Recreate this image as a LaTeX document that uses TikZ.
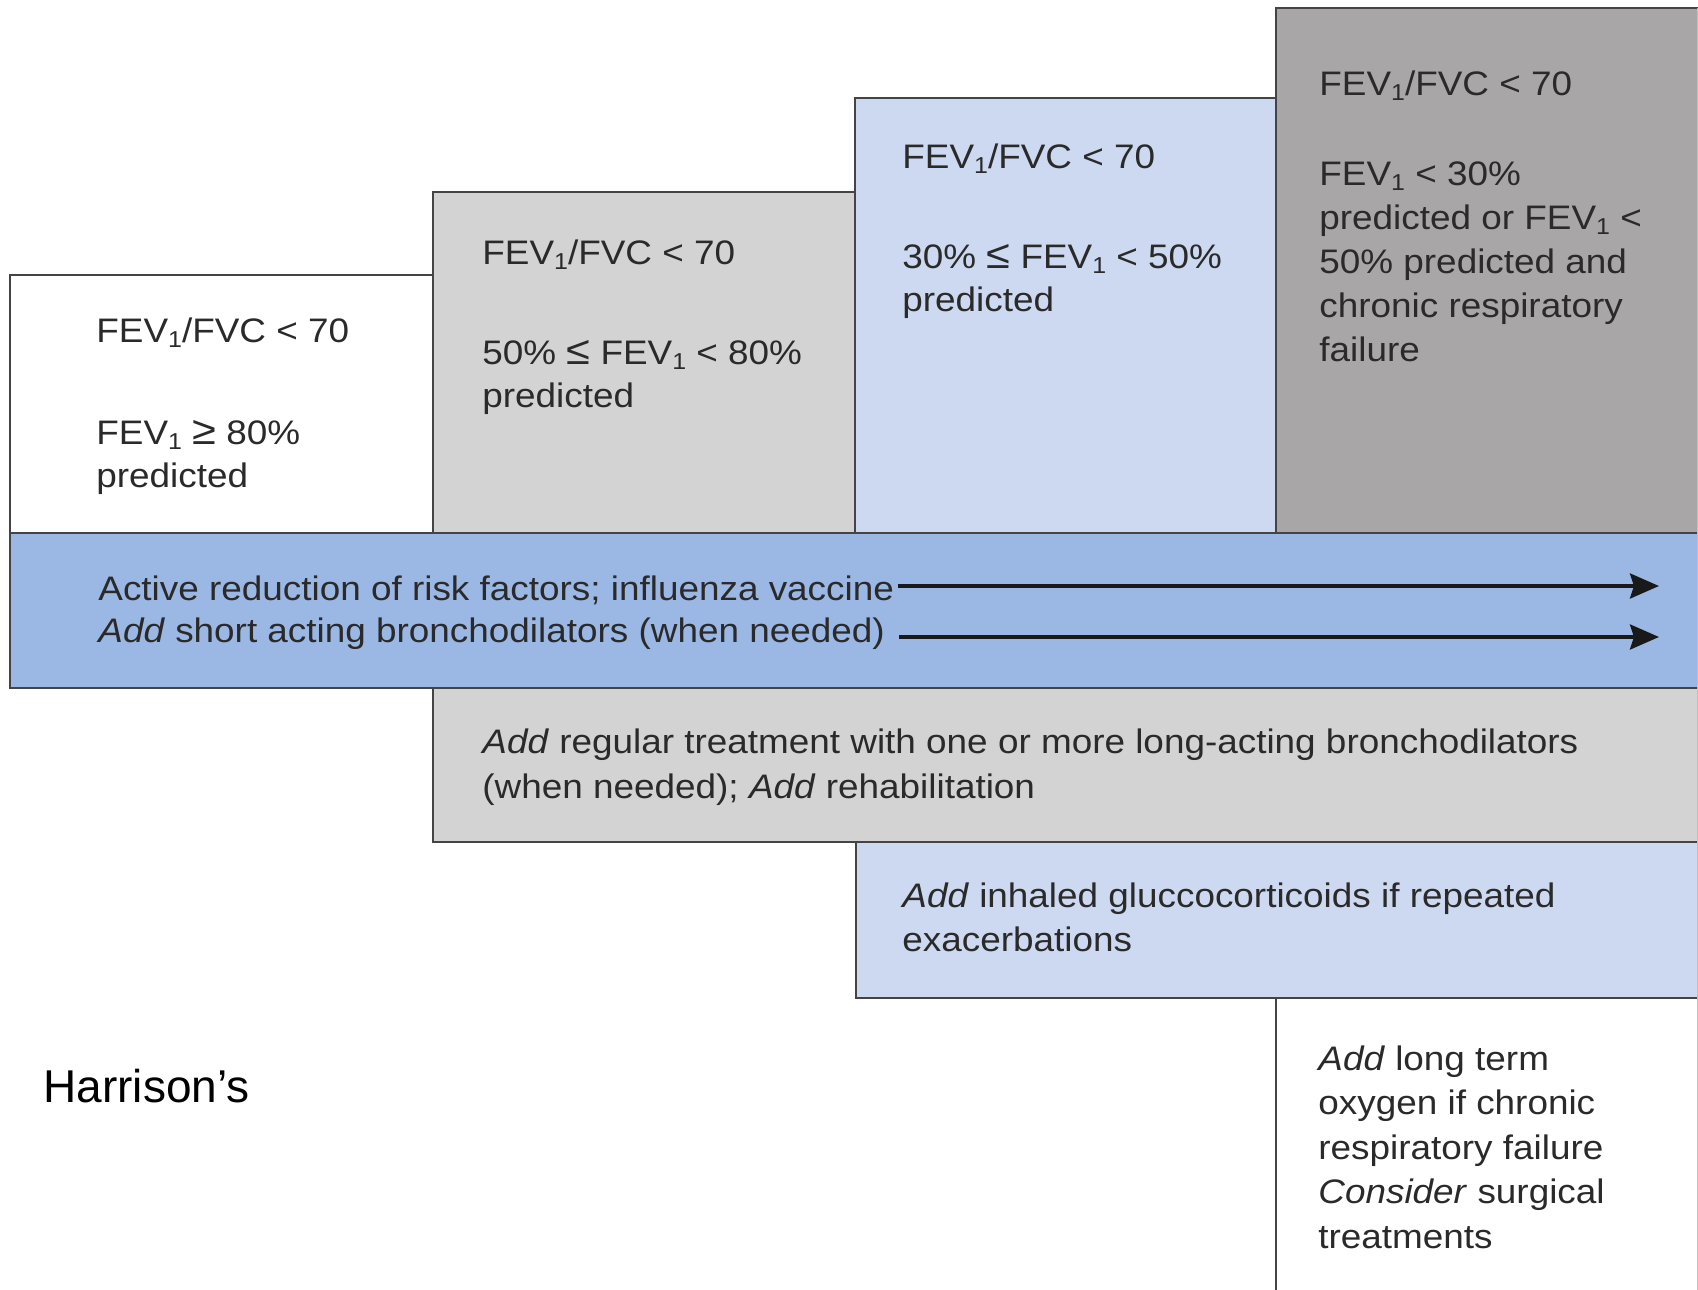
\documentclass[tikz,border=0pt]{standalone}
\usepackage{fontspec}
\setmainfont{Liberation Sans}
\newfontfamily\dfont[FakeStretch=1.085]{Liberation Sans}
\usetikzlibrary{arrows.meta}
\definecolor{lgray}{HTML}{D3D3D3}
\definecolor{lblue}{HTML}{CCD9F0}
\definecolor{dgray}{HTML}{A8A6A7}
\definecolor{mblue}{HTML}{9BB8E4}
\definecolor{edgec}{HTML}{444444}
\definecolor{txtc}{HTML}{2A2A2A}
\newcommand\fevone{FEV\raisebox{-2.5pt}{\fontsize{11.5}{11.5}\selectfont 1}}
\newcommand\mygeq{{\fontsize{20}{20}\selectfont ≥}}
\newcommand\myleq{{\fontsize{20}{20}\selectfont ≤}}
\tikzset{
  boxpath/.style={draw=edgec,line width=1pt},
  dtext/.style={anchor=base west,inner sep=0pt,align=left,text=txtc,
    font=\dfont\fontsize{17}{21.5}\selectfont},
  arr/.style={line width=1.75pt,draw=black!90,
    -{Stealth[length=14.5pt,width=12.5pt,inset=2pt]}}
}
\begin{document}
\begin{tikzpicture}[x=0.5pt,y=-0.5pt]
\useasboundingbox (0,0) rectangle (1698,1290);
% top stair boxes
\path[boxpath,fill=white] (10,275) rectangle (433,533);
\path[boxpath,fill=lgray] (433,192) rectangle (855,533);
\path[boxpath,fill=lblue] (855,98) rectangle (1276,533);
\path[boxpath,fill=dgray] (1276,8) rectangle (1702,533);
% bands
\path[boxpath,fill=mblue] (10,533) rectangle (1702,688);
\path[boxpath,fill=lgray] (433,688) rectangle (1702,842);
\path[boxpath,fill=lblue] (856,842) rectangle (1702,998);
\draw[edgec,line width=1pt] (1276,998) -- (1276,1292);
\draw[black!25,line width=0.5pt] (1697,8) -- (1697,1290);
% texts (anchor = baseline of last line)
\node[dtext] (s1) at (96,487) {\fevone/FVC < 70\\[29.5pt]\fevone{} \mygeq{} 80\%\\predicted};
\node[dtext] (s2) at (482,407) {\fevone/FVC < 70\\[28.5pt]50\% \myleq{} \fevone{} < 80\%\\predicted};
\node[dtext] (s3) at (902,311) {\fevone/FVC < 70\\[28.5pt]30\% \myleq{} \fevone{} < 50\%\\predicted};
\node[dtext,font=\dfont\fontsize{17}{22}\selectfont] (s4) at (1319,361) {\fevone/FVC < 70\\[23pt]\fevone{} < 30\%\\predicted or \fevone{} <\\50\% predicted and\\chronic respiratory\\failure};
\node[dtext,font=\dfont\fontsize{17}{21}\selectfont] (b1) at (98,642) {Active reduction of risk factors; influenza vaccine\\\textit{Add} short acting bronchodilators (when needed)};
\node[dtext,font=\dfont\fontsize{17}{22.5}\selectfont] (b2) at (482,798) {\textit{Add} regular treatment with one or more long-acting bronchodilators\\(when needed); \textit{Add} rehabilitation};
\node[dtext,font=\dfont\fontsize{17}{22}\selectfont] (b3) at (902,951) {\textit{Add} inhaled gluccocorticoids if repeated\\exacerbations};
\node[dtext,font=\dfont\fontsize{17}{22.25}\selectfont] (b4) at (1318,1248) {\textit{Add} long term\\oxygen if chronic\\respiratory failure\\\textit{Consider} surgical\\treatments};
\node[anchor=base west,inner sep=0pt,font=\fontsize{23}{27}\selectfont] (src) at (43,1102) {Harrison’s};
% arrows
\coordinate (a1s) at (898,586);
\coordinate (a1e) at (1659,586);
\coordinate (a2s) at (899,637);
\coordinate (a2e) at (1659,637);
\draw[arr] (a1s) -- (a1e);
\draw[arr] (a2s) -- (a2e);
\end{tikzpicture}
\end{document}
